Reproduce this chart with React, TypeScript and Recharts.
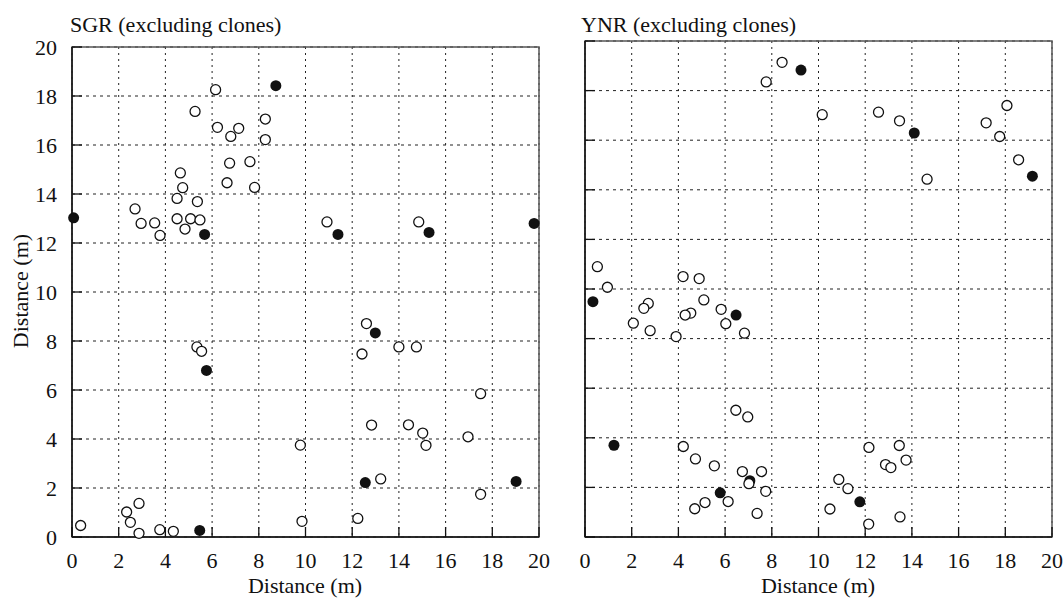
import { ScatterChart, Scatter, XAxis, YAxis, CartesianGrid, ReferenceArea } from 'recharts';

interface Pt {
  x: number;
  y: number;
}

const TICKS = [0, 2, 4, 6, 8, 10, 12, 14, 16, 18, 20];

const sgrOpen: Pt[] = [
  { x: 6.15, y: 18.26 }, { x: 5.27, y: 17.37 }, { x: 6.23, y: 16.72 }, { x: 7.14, y: 16.68 },
  { x: 6.8, y: 16.35 }, { x: 8.28, y: 17.06 }, { x: 8.28, y: 16.22 }, { x: 6.75, y: 15.26 },
  { x: 7.62, y: 15.32 }, { x: 6.64, y: 14.46 }, { x: 7.82, y: 14.27 }, { x: 4.64, y: 14.86 },
  { x: 4.74, y: 14.26 }, { x: 4.5, y: 13.82 }, { x: 5.37, y: 13.69 }, { x: 2.7, y: 13.39 },
  { x: 2.96, y: 12.8 }, { x: 3.54, y: 12.82 }, { x: 3.77, y: 12.31 }, { x: 4.5, y: 12.99 },
  { x: 5.08, y: 12.99 }, { x: 5.48, y: 12.94 }, { x: 4.84, y: 12.57 }, { x: 10.92, y: 12.86 },
  { x: 14.85, y: 12.86 }, { x: 5.35, y: 7.76 }, { x: 5.55, y: 7.58 }, { x: 9.78, y: 3.75 },
  { x: 0.37, y: 0.47 }, { x: 2.34, y: 1.02 }, { x: 2.87, y: 1.37 }, { x: 2.5, y: 0.6 },
  { x: 2.87, y: 0.15 }, { x: 3.76, y: 0.3 }, { x: 4.34, y: 0.23 }, { x: 9.85, y: 0.64 },
  { x: 12.61, y: 8.71 }, { x: 12.42, y: 7.47 }, { x: 14.0, y: 7.76 }, { x: 14.75, y: 7.76 },
  { x: 17.5, y: 5.85 }, { x: 12.83, y: 4.57 }, { x: 14.41, y: 4.58 }, { x: 15.02, y: 4.24 },
  { x: 15.16, y: 3.74 }, { x: 16.96, y: 4.09 }, { x: 13.22, y: 2.37 }, { x: 17.5, y: 1.74 },
  { x: 12.24, y: 0.76 },
];

const sgrFilled: Pt[] = [
  { x: 0.07, y: 13.03 }, { x: 8.73, y: 18.42 }, { x: 5.68, y: 12.35 }, { x: 11.39, y: 12.35 },
  { x: 15.29, y: 12.43 }, { x: 19.79, y: 12.8 }, { x: 5.76, y: 6.8 }, { x: 5.47, y: 0.27 },
  { x: 12.99, y: 8.33 }, { x: 12.56, y: 2.22 }, { x: 19.02, y: 2.27 },
];

const ynrOpen: Pt[] = [
  { x: 8.44, y: 19.14 }, { x: 7.76, y: 18.35 }, { x: 10.16, y: 17.03 }, { x: 12.57, y: 17.13 },
  { x: 13.47, y: 16.78 }, { x: 14.65, y: 14.43 }, { x: 18.07, y: 17.4 }, { x: 17.18, y: 16.7 },
  { x: 17.76, y: 16.15 }, { x: 18.57, y: 15.21 },
  { x: 0.53, y: 10.9 }, { x: 0.96, y: 10.07 }, { x: 4.2, y: 10.5 }, { x: 4.89, y: 10.42 },
  { x: 5.09, y: 9.56 }, { x: 2.71, y: 9.42 }, { x: 2.52, y: 9.22 }, { x: 4.53, y: 9.03 },
  { x: 4.29, y: 8.95 }, { x: 5.83, y: 9.18 }, { x: 2.07, y: 8.62 }, { x: 2.79, y: 8.32 },
  { x: 3.9, y: 8.08 }, { x: 6.03, y: 8.6 }, { x: 6.83, y: 8.22 },
  { x: 6.46, y: 5.11 }, { x: 6.97, y: 4.84 }, { x: 4.21, y: 3.65 }, { x: 4.73, y: 3.15 },
  { x: 5.54, y: 2.87 }, { x: 6.74, y: 2.64 }, { x: 7.56, y: 2.64 }, { x: 7.02, y: 2.15 },
  { x: 7.74, y: 1.84 }, { x: 6.13, y: 1.43 }, { x: 5.14, y: 1.39 }, { x: 4.7, y: 1.14 },
  { x: 7.37, y: 0.95 },
  { x: 12.16, y: 3.61 }, { x: 13.46, y: 3.69 }, { x: 13.75, y: 3.1 }, { x: 12.87, y: 2.92 },
  { x: 13.1, y: 2.8 }, { x: 10.87, y: 2.32 }, { x: 11.26, y: 1.95 }, { x: 10.49, y: 1.13 },
  { x: 12.15, y: 0.52 }, { x: 13.49, y: 0.81 },
];

const ynrFilled: Pt[] = [
  { x: 9.25, y: 18.83 }, { x: 14.1, y: 16.29 }, { x: 19.16, y: 14.55 }, { x: 0.34, y: 9.49 },
  { x: 6.47, y: 8.95 }, { x: 1.24, y: 3.7 }, { x: 7.06, y: 2.27 }, { x: 5.79, y: 1.78 },
  { x: 11.77, y: 1.42 },
];

const FONT = '"Liberation Serif", "Times New Roman", serif';
const INK = '#111';

const XTick = ({ x, y, payload }: any) => (
  <g>
    <line x1={x} y1={y} x2={x} y2={y - 10} stroke={INK} strokeWidth={1.3} />
    <text x={x} y={y + 31} textAnchor="middle" fontSize={22} fontFamily={FONT} fill={INK}>
      {payload.value}
    </text>
  </g>
);

const YTick = ({ x, y, payload, showLabel }: any) => (
  <g>
    <line x1={x} y1={y} x2={x + 10} y2={y} stroke={INK} strokeWidth={1.3} />
    {showLabel && (
      <text x={x - 15} y={y + 8} textAnchor="end" fontSize={22} fontFamily={FONT} fill={INK}>
        {payload.value}
      </text>
    )}
  </g>
);

const openDot = (p: any) => <circle cx={p.cx} cy={p.cy} r={5} fill="#fff" stroke={INK} strokeWidth={1.3} />;
const filledDot = (p: any) => <circle cx={p.cx} cy={p.cy} r={5.5} fill={INK} />;

function Panel({ open, filled, width, margin, showYLabels }: {
  open: Pt[];
  filled: Pt[];
  width: number;
  margin: { top: number; right: number; bottom: number; left: number };
  showYLabels: boolean;
}) {
  return (
    <ScatterChart width={width} height={598} margin={margin}>
      <CartesianGrid vertical={false} stroke="#222" strokeDasharray="3 4" />
      <CartesianGrid horizontal={false} stroke="#222" strokeDasharray="2 4" />
      <ReferenceArea x1={0} x2={20} y1={0} y2={20} fill="none" stroke="#555" strokeWidth={1.5} />
      <XAxis
        type="number"
        dataKey="x"
        domain={[0, 20]}
        ticks={TICKS}
        height={40}
        tickSize={0}
        tickMargin={0}
        tickLine={false}
        axisLine={{ stroke: INK, strokeWidth: 1.5 }}
        tick={<XTick />}
        interval={0}
      />
      <YAxis
        type="number"
        dataKey="y"
        domain={[0, 20]}
        ticks={TICKS}
        width={20}
        tickSize={0}
        tickMargin={0}
        tickLine={false}
        axisLine={{ stroke: INK, strokeWidth: 1.5 }}
        tick={<YTick showLabel={showYLabels} />}
        interval={0}
      />
      <Scatter data={filled} shape={filledDot} isAnimationActive={false} />
      <Scatter data={open} shape={openDot} isAnimationActive={false} />
    </ScatterChart>
  );
}

const textStyle: React.CSSProperties = {
  position: 'absolute',
  fontFamily: FONT,
  fontSize: 22,
  lineHeight: '22px',
  color: INK,
  whiteSpace: 'nowrap',
};

export default function App() {
  return (
    <div style={{ position: 'absolute', left: 0, top: 0, width: 1063, height: 598, background: '#fff' }}>
      <div style={{ position: 'absolute', left: 0, top: 0 }}>
        <Panel
          open={sgrOpen}
          filled={sgrFilled}
          width={560}
          margin={{ top: 47, right: 21, bottom: 21, left: 52 }}
          showYLabels
        />
      </div>
      <div style={{ position: 'absolute', left: 560, top: 0 }}>
        <Panel
          open={ynrOpen}
          filled={ynrFilled}
          width={503}
          margin={{ top: 41, right: 11, bottom: 21, left: 5 }}
          showYLabels={false}
        />
      </div>
      <div style={{ ...textStyle, left: 70, top: 14 }}>SGR (excluding clones)</div>
      <div style={{ ...textStyle, left: 581, top: 14 }}>YNR (excluding clones)</div>
      <div style={{ ...textStyle, left: 245, top: 575, width: 120, textAlign: 'center' }}>Distance (m)</div>
      <div style={{ ...textStyle, left: 758, top: 575, width: 120, textAlign: 'center' }}>Distance (m)</div>
      <div
        style={{
          ...textStyle,
          left: 20.5 - 60,
          top: 291 - 11,
          width: 120,
          textAlign: 'center',
          transform: 'rotate(-90deg)',
        }}
      >
        Distance (m)
      </div>
    </div>
  );
}
